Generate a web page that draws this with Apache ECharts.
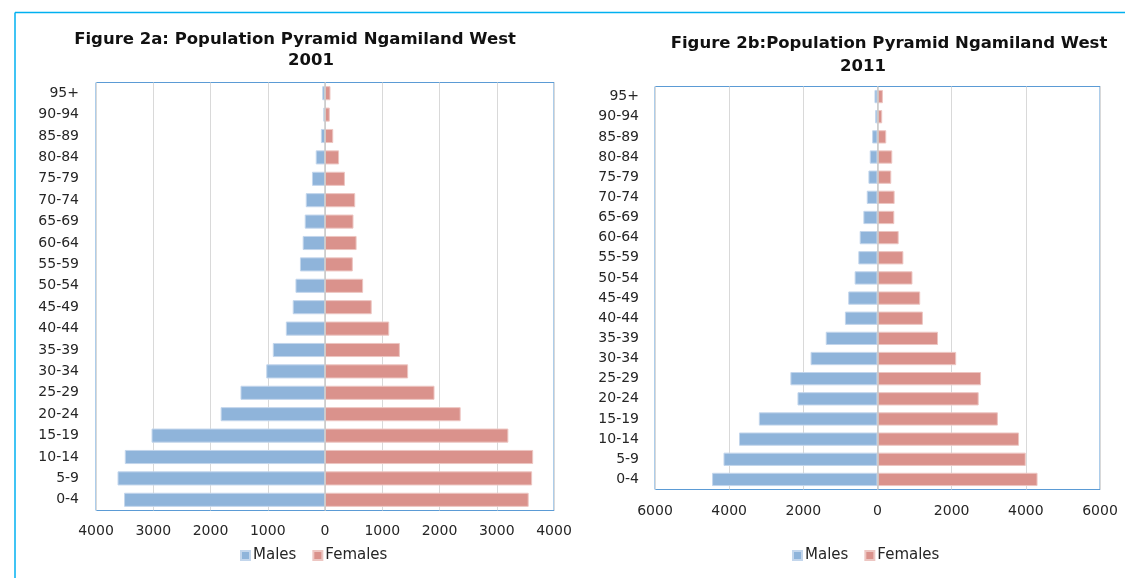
<!DOCTYPE html>
<html>
<head>
<meta charset="utf-8">
<script src="https://cdn.jsdelivr.net/npm/echarts@6/dist/echarts.min.js"></script>
<style>
  html, body { margin: 0; padding: 0; background: #fff; }
  #chart { width: 1125px; height: 578px; }
</style>
</head>
<body>
<div id="chart"></div>
<script>
  // age groups, bottom to top
  const ageGroups = ['0-4', '5-9', '10-14', '15-19', '20-24', '25-29', '30-34', '35-39', '40-44', '45-49',
    '50-54', '55-59', '60-64', '65-69', '70-74', '75-79', '80-84', '85-89', '90-94', '95+'];

  // 2001
  const males2001 = [3510, 3624, 3497, 3030, 1823, 1476, 1026, 912, 684, 564, 516, 438, 390, 354, 336, 228, 162, 72, 30, 48];
  const females2001 = [3558, 3618, 3636, 3203, 2370, 1913, 1452, 1308, 1122, 816, 666, 486, 552, 498, 528, 348, 246, 144, 84, 96];

  // 2011
  const males2011 = [4461, 4153, 3735, 3200, 2158, 2349, 1805, 1396, 879, 789, 617, 517, 481, 381, 290, 245, 209, 145, 63, 82];
  const females2011 = [4316, 3998, 3817, 3246, 2729, 2793, 2122, 1632, 1224, 1152, 943, 698, 571, 453, 462, 372, 399, 236, 127, 145];

  const titleLines2001 = ['Figure 2a: Population Pyramid Ngamiland West', '2001'];
  const titleLines2011 = ['Figure 2b:Population Pyramid Ngamiland West', '2011'];

  const font = 'DejaVu Sans';
  const labelColor = '#262626';
  const maleColor = '#8FB4DA';
  const femaleColor = '#DA928C';

  const chart = echarts.init(document.getElementById('chart'));

  const makeX = (gridIndex, max, interval, margin) => ({
    type: 'value',
    gridIndex,
    min: -max,
    max,
    interval,
    axisLine: { show: false },
    axisTick: { show: false },
    axisLabel: {
      color: labelColor,
      fontFamily: font,
      fontSize: 14,
      margin,
      formatter: (v) => Math.abs(v),
    },
    splitLine: { lineStyle: { color: '#D9D9D9', width: 1 } },
  });

  const makeY = (gridIndex, margin) => ({
    type: 'category',
    gridIndex,
    data: ageGroups,
    axisLine: { show: false },
    axisTick: { show: false },
    axisLabel: { color: labelColor, fontFamily: font, fontSize: 14, margin },
  });

  const makeSeries = (name, data, color, border, idx, stack, withZero) => {
    const s = {
      name,
      type: 'bar',
      xAxisIndex: idx,
      yAxisIndex: idx,
      stack,
      barWidth: '66%',
      data,
      itemStyle: { color, borderColor: border, borderWidth: 1 },
      animation: false,
    };
    if (withZero) {
      s.markLine = {
        silent: true,
        symbol: 'none',
        label: { show: false },
        lineStyle: { color: '#C8C8C8', type: 'solid', width: 1.5 },
        data: [{ xAxis: 0 }],
      };
    }
    return s;
  };

  const titleText = (text, x, y) => ({
    type: 'text',
    x,
    y,
    style: {
      text,
      fill: '#111',
      font: 'bold 16.5px "DejaVu Sans"',
      align: 'center',
      verticalAlign: 'middle',
    },
  });

  const legendBase = {
    top: 548,
    padding: 0,
    itemWidth: 9,
    itemHeight: 9,
    itemGap: 16,
    icon: 'rect',
    textStyle: { color: labelColor, fontFamily: font, fontSize: 15, padding: [0, 0, 0, -2] },
  };

  const option = {
    animation: false,
    grid: [
      { left: 96, top: 82.5, width: 458, height: 428, show: true, borderColor: '#5B9BD5', borderWidth: 1 },
      { left: 655, top: 86.5, width: 445, height: 403, show: true, borderColor: '#5B9BD5', borderWidth: 1 },
    ],
    xAxis: [makeX(0, 4000, 1000, 14), makeX(1, 6000, 2000, 15)],
    yAxis: [makeY(0, 17), makeY(1, 16)],
    legend: [
      { ...legendBase, data: ['Males', 'Females'], left: 240 },
      {
        ...legendBase,
        data: ['Males 2011', 'Females 2011'],
        left: 792,
        formatter: (n) => n.replace(' 2011', ''),
      },
    ],
    series: [
      makeSeries('Males', males2001.map(v => -v), maleColor, '#C3D6EC', 0, 'a', true),
      makeSeries('Females', females2001, femaleColor, '#EDC6C2', 0, 'a', false),
      makeSeries('Males 2011', males2011.map(v => -v), maleColor, '#C3D6EC', 1, 'b', true),
      makeSeries('Females 2011', females2011, femaleColor, '#EDC6C2', 1, 'b', false),
    ],
    graphic: [
      // outer frame
      { type: 'line', shape: { x1: 15, y1: 12.5, x2: 1125, y2: 12.5 }, style: { stroke: '#00B0F0', lineWidth: 1.5 } },
      { type: 'line', shape: { x1: 15, y1: 12.5, x2: 15, y2: 578 }, style: { stroke: '#00B0F0', lineWidth: 1.5 } },
      titleText(titleLines2001[0], 295, 39.5),
      titleText(titleLines2001[1], 311, 61),
      titleText(titleLines2011[0], 889, 44),
      titleText(titleLines2011[1], 863, 67),
    ],
  };

  chart.setOption(option);
</script>
</body>
</html>
